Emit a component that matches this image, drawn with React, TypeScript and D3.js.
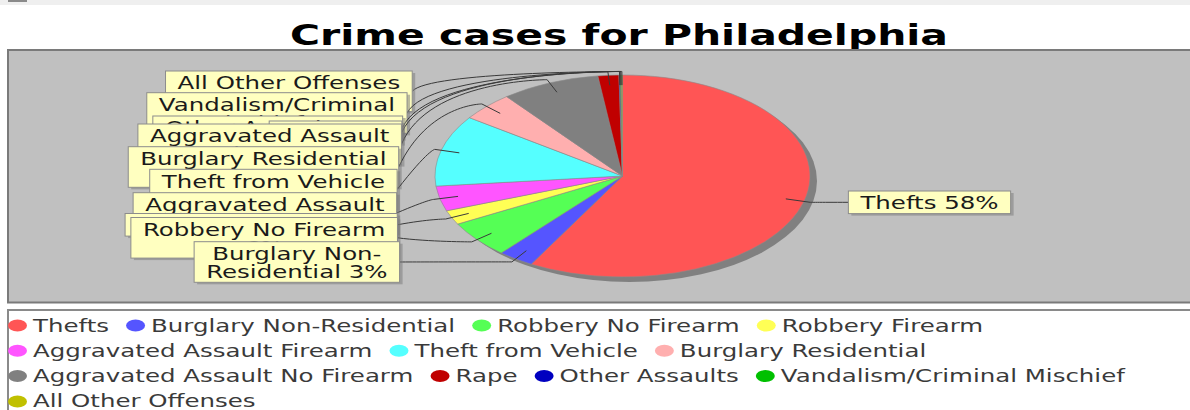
import React from 'react';
import * as d3 from 'd3';

// ---------- data ----------
const title = 'Crime cases for Philadelphia';
const categories = [
  'Thefts',
  'Burglary Non-Residential',
  'Robbery No Firearm',
  'Robbery Firearm',
  'Aggravated Assault Firearm',
  'Theft from Vehicle',
  'Burglary Residential',
  'Aggravated Assault No Firearm',
  'Rape',
  'Other Assaults',
  'Vandalism/Criminal Mischief',
  'All Other Offenses',
];
const shares = [58.1, 3.1, 5.9, 2.3, 4.0, 11.4, 4.6, 8.5, 1.8, 0.1, 0.1, 0.1];
const colors = [
  '#FF5555', '#5555FF', '#55FF55', '#FFFF55', '#FF55FF', '#55FFFF',
  '#FFAFAF', '#808080', '#C00000', '#0000C0', '#00C000', '#C0C000',
];

// ---------- layout ----------
const W = 1190;
const H = 410;
const SX = 1.44; // horizontal stretch of the text
const FONT = '"DejaVu Sans", Verdana, sans-serif';
const FS = 17;
const CX = 622.5;
const CY = 176;
const RX = 187.5;
const RY = 101;
const LINK_AREA = 1.035;
const LINK_PCT = 0.9;
const GAP = 31.8;
const LABEL_MAX_W = 262;
const PADX = 12;
const PADY = 2.3;
const LINE_H = 18;
const BASE = 18.3;
// tops of the stacked left-hand label boxes (from top to bottom)
const LEFT_LABEL_TOPS = [71, 92.7, 116, 121, 124, 146.7, 169.3, 192.7, 213.5, 217.5, 241.7];

let _ctx: CanvasRenderingContext2D | null = null;
function measure(text: string, size = FS, weight = 'normal'): number {
  if (!_ctx) _ctx = document.createElement('canvas').getContext('2d');
  if (!_ctx) return text.length * size * 0.6;
  _ctx.font = `${weight} ${size}px "DejaVu Sans"`;
  return _ctx.measureText(text).width;
}

function wrap(text: string, maxW: number): string[] {
  const pieces: { t: string; sp: boolean }[] = [];
  text.split(' ').forEach((w, wi) => {
    const parts = w.split(/(?<=-)/);
    parts.forEach((p, pi) => pieces.push({ t: p, sp: wi > 0 && pi === 0 }));
  });
  const lines: string[] = [];
  let cur = '';
  for (const p of pieces) {
    const cand = cur === '' ? p.t : cur + (p.sp ? ' ' : '') + p.t;
    if (cur !== '' && measure(cand) * SX > maxW) {
      lines.push(cur);
      cur = p.t;
    } else cur = cand;
  }
  if (cur) lines.push(cur);
  return lines;
}

export default function App() {
  const total = d3.sum(shares);
  const pieData = d3.pie<number>().sort(null).value((d) => d)(shares);
  const arc = d3.arc<d3.PieArcDatum<number>>().innerRadius(0).outerRadius(RY);

  const recs = pieData.map((p, i) => {
    const a = (p.startAngle + p.endAngle) / 2;
    const s = Math.sin(a);
    const c = -Math.cos(a);
    return {
      i,
      a,
      left: s < 0,
      linkX: CX + s * RX * LINK_PCT,
      linkY: CY + c * RY * LINK_PCT,
      elbowX: CX + s * RX * LINK_AREA,
      elbowY: CY + c * RY * LINK_AREA,
      text: `${categories[i]} ${Math.round((p.value / total) * 100)}%`,
    };
  });

  type Lab = {
    i: number; lines: string[]; left: number; top: number; w: number; h: number;
    path: string; link: [number, number, number, number];
  };
  const labels: Lab[] = [];
  const leftRecs = recs.filter((r) => r.left).sort((a, b) => b.a - a.a);
  leftRecs.forEach((r, k) => {
    const lines = wrap(r.text, LABEL_MAX_W);
    const w = d3.max(lines, (l) => measure(l) * SX)! + 2 * PADX;
    const h = lines.length * LINE_H + 2 * PADY;
    const top = LEFT_LABEL_TOPS[Math.min(k, LEFT_LABEL_TOPS.length - 1)];
    const anchorX = CX - RX * LINK_AREA;
    const right = anchorX - GAP + 0.0011 * (top - 190) * (top - 190);
    const ty = top + h / 2;
    const path = `M${right},${ty}C${anchorX},${r.elbowY} ${r.elbowX},${r.elbowY} ${r.elbowX},${r.elbowY}`;
    labels.push({ i: r.i, lines, left: right - w, top, w, h, path, link: [r.elbowX, r.elbowY, r.linkX, r.linkY] });
  });
  recs.filter((r) => !r.left).forEach((r) => {
    const lines = wrap(r.text, LABEL_MAX_W);
    const w = d3.max(lines, (l) => measure(l) * SX)! + 2 * PADX;
    const h = lines.length * LINE_H + 2 * PADY;
    const anchorX = CX + RX * LINK_AREA;
    const left = anchorX + GAP;
    const ty = r.elbowY;
    const path = `M${left},${ty}C${anchorX},${r.elbowY} ${r.elbowX},${r.elbowY} ${r.elbowX},${r.elbowY}`;
    labels.push({ i: r.i, lines, left, top: ty - h / 2, w, h, path, link: [r.elbowX, r.elbowY, r.linkX, r.linkY] });
  });

  // legend flow layout
  const legendItems: { i: number; x: number; row: number }[] = [];
  let lx = 8;
  let row = 0;
  categories.forEach((c, i) => {
    const tw = measure(c) * SX;
    const w = 19 + 6 + tw;
    if (lx + w > 1185 && lx > 8) {
      row += 1;
      lx = 8;
    }
    legendItems.push({ i, x: lx, row });
    lx += w + 17;
  });

  return (
    <svg
      width={W}
      height={H}
      viewBox={`0 0 ${W} ${H}`}
      style={{ position: 'absolute', left: 0, top: 0, display: 'block' }}
      fontFamily={FONT}
    >
      <rect x={0} y={0} width={W} height={H} fill="#ffffff" />
      <rect x={0} y={0} width={W} height={5} fill="#efefef" />
      <rect x={8} y={0} width={19} height={2} fill="#8a8a8a" />

      {/* title */}
      <text
        x={619}
        y={45}
        textAnchor="middle"
        fontSize={29}
        fontWeight="bold"
        fill="#000"
        textLength={658}
        lengthAdjust="spacingAndGlyphs"
      >
        {title}
      </text>

      {/* plot area */}
      <rect x={8} y={50} width={W + 10} height={252.5} fill="#C0C0C0" stroke="#7a7a7a" strokeWidth={2} />

      {/* pie shadow */}
      <ellipse cx={CX + 7} cy={CY + 5} rx={RX} ry={RY} fill="#808080" />

      {/* pie */}
      <g transform={`translate(${CX},${CY}) scale(${RX / RY},1)`}>
        {pieData.map((p, i) => (
          <path
            key={i}
            d={arc(p) || ''}
            fill={colors[i]}
            stroke="#8a8a8a"
            strokeWidth={0.6}
            vectorEffect="non-scaling-stroke"
          />
        ))}
      </g>

      {/* labels with links */}
      {labels.map((l) => (
        <g key={l.i}>
          <path d={l.path} fill="none" stroke="#3a3a3a" strokeWidth={1} />
          <line x1={l.link[0]} y1={l.link[1]} x2={l.link[2]} y2={l.link[3]} stroke="#3a3a3a" strokeWidth={1} />
          <rect x={l.left + 3} y={l.top + 2} width={l.w} height={l.h} fill="rgba(120,120,120,0.5)" />
          <rect x={l.left} y={l.top} width={l.w} height={l.h} fill="#FFFFC0" stroke="#8c8c8c" strokeWidth={1} />
          {l.lines.map((t, k) => (
            <text
              key={k}
              transform={`translate(${l.left + l.w / 2},${l.top + BASE + k * LINE_H}) scale(${SX},1)`}
              textAnchor="middle"
              fontSize={FS}
              fill="#1a1a1a"
            >
              {t}
            </text>
          ))}
        </g>
      ))}

      {/* legend */}
      <rect x={8} y={310} width={W + 10} height={120} fill="#ffffff" stroke="#8a8a8a" strokeWidth={2} />
      {legendItems.map((it) => {
        const yc = 325.5 + it.row * 25.3;
        return (
          <g key={it.i}>
            <ellipse cx={it.x + 9.5} cy={yc} rx={9.5} ry={6} fill={colors[it.i]} />
            <text
              transform={`translate(${it.x + 25},${yc + 6}) scale(${SX},1)`}
              fontSize={FS}
              fill="#3a3a3a"
            >
              {categories[it.i]}
            </text>
          </g>
        );
      })}
    </svg>
  );
}
